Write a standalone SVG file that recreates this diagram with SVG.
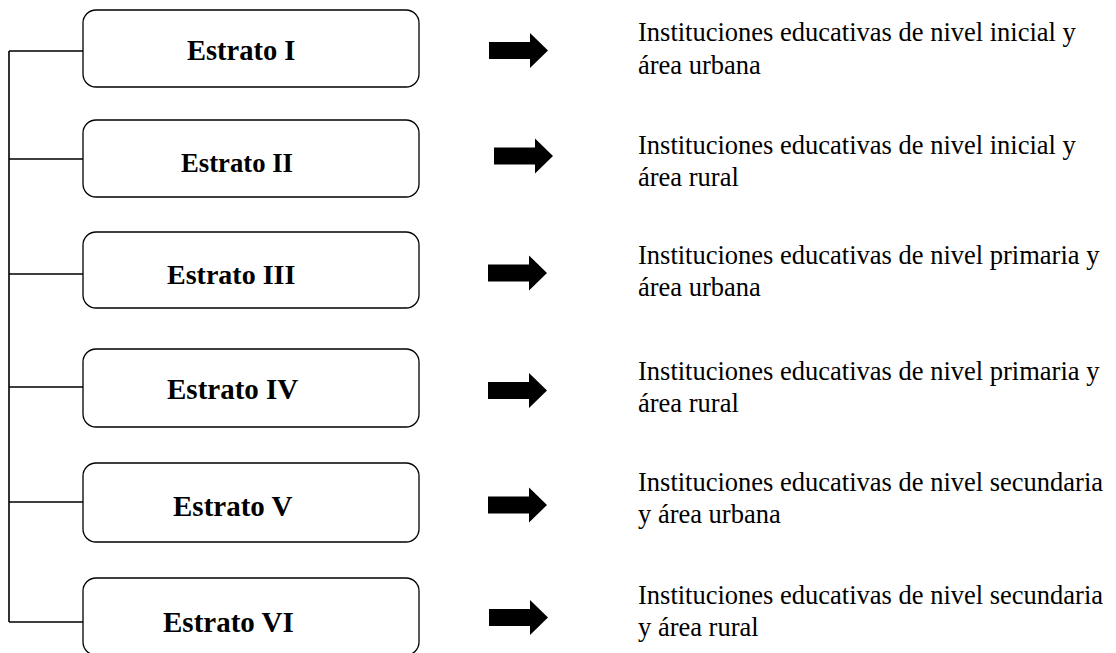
<svg xmlns="http://www.w3.org/2000/svg" width="1116" height="653" viewBox="0 0 1116 653">
<defs>
<style>
.box{fill:#fff;stroke:#000;stroke-width:1.3}
.lbl{font-family:"Liberation Serif","Times New Roman",serif;font-weight:bold;fill:#000}
.desc{font-family:"Liberation Serif","Times New Roman",serif;font-size:26.5px;fill:#000}
.conn{fill:none;stroke:#000;stroke-width:1.6}
</style>
<path id="arr" d="M0,-8.5 H41 V-17.5 L59,0 L41,17.5 V8.5 H0 Z" fill="#000"/>
</defs>
<rect width="1116" height="653" fill="#fff"/>
<g id="connectors">
<path class="conn" d="M9,51 V622 M9,51 H83 M9,159 H83 M9,274 H83 M9,387 H83 M9,502 H83 M9,622 H83"/>
<use href="#arr" x="489" y="50.5"/>
<use href="#arr" x="494" y="156"/>
<use href="#arr" x="488" y="273"/>
<use href="#arr" x="488" y="390.5"/>
<use href="#arr" x="488" y="505"/>
<use href="#arr" x="489" y="617.5"/>
</g>
<g id="estrato1">
<rect class="box" x="83" y="10" width="336" height="77" rx="13"/>
<text class="lbl" x="187" y="60" font-size="28.5">Estrato I</text>
</g>
<g id="estrato2">
<rect class="box" x="83" y="120" width="336" height="77" rx="13"/>
<text class="lbl" x="181" y="172" font-size="26.7">Estrato II</text>
</g>
<g id="estrato3">
<rect class="box" x="83" y="232" width="336" height="76" rx="13"/>
<text class="lbl" x="167" y="284" font-size="28">Estrato III</text>
</g>
<g id="estrato4">
<rect class="box" x="83" y="349" width="336" height="78" rx="13"/>
<text class="lbl" x="167" y="399" font-size="29">Estrato IV</text>
</g>
<g id="estrato5">
<rect class="box" x="83" y="463" width="336" height="79" rx="13"/>
<text class="lbl" x="173" y="516" font-size="29">Estrato V</text>
</g>
<g id="estrato6">
<rect class="box" x="83" y="578" width="336" height="77" rx="13"/>
<text class="lbl" x="163" y="632" font-size="29">Estrato VI</text>
</g>
<g id="desc1"><text class="desc" x="638" y="41">Instituciones educativas de nivel inicial y</text><text class="desc" x="638" y="74">área urbana</text></g>
<g id="desc2"><text class="desc" x="638" y="154">Instituciones educativas de nivel inicial y</text><text class="desc" x="638" y="186">área rural</text></g>
<g id="desc3"><text class="desc" x="638" y="264">Instituciones educativas de nivel primaria y</text><text class="desc" x="638" y="296">área urbana</text></g>
<g id="desc4"><text class="desc" x="638" y="380">Instituciones educativas de nivel primaria y</text><text class="desc" x="638" y="412">área rural</text></g>
<g id="desc5"><text class="desc" x="638" y="491">Instituciones educativas de nivel secundaria</text><text class="desc" x="638" y="523">y área urbana</text></g>
<g id="desc6"><text class="desc" x="638" y="604">Instituciones educativas de nivel secundaria</text><text class="desc" x="638" y="636">y área rural</text></g>
</svg>
